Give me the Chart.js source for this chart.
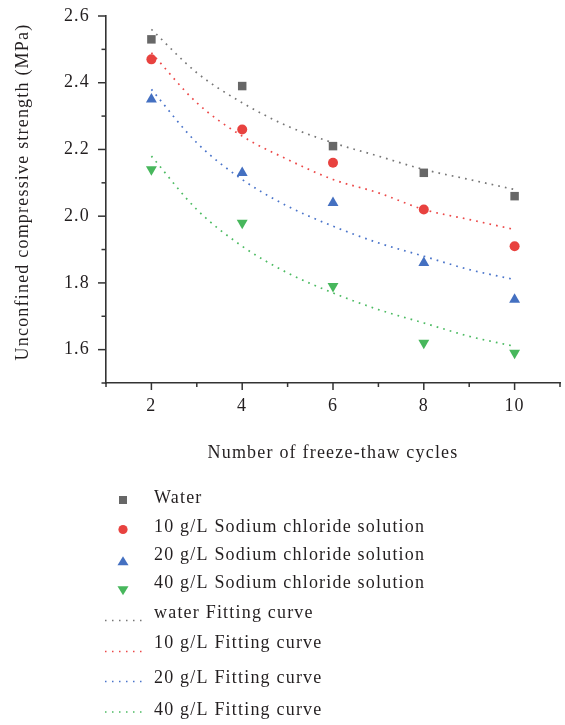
<!DOCTYPE html>
<html>
<head>
<meta charset="utf-8">
<script src="https://cdn.jsdelivr.net/npm/chart.js@4/dist/chart.umd.min.js"></script>
<style>
  html, body { margin: 0; padding: 0; background: #ffffff; }
  #wrap { width: 565px; height: 725px; position: relative; }
</style>
</head>
<body>
<div id="wrap"><canvas id="c" width="565" height="725"></canvas></div>
<script>
// ---- data ----
const cycles = [2, 4, 6, 8, 10];
const water = [2.53, 2.39, 2.21, 2.13, 2.06];
const nacl10 = [2.47, 2.26, 2.16, 2.02, 1.91];
const nacl20 = [2.35, 2.13, 2.04, 1.86, 1.75];
const nacl40 = [2.14, 1.98, 1.79, 1.62, 1.59];

const fitCycles = [2, 3, 4, 5, 6, 7, 8, 9, 10];
const waterFit = [2.56, 2.43, 2.34, 2.27, 2.22, 2.18, 2.14, 2.11, 2.08];
const fit10 = [2.49, 2.34, 2.24, 2.17, 2.11, 2.07, 2.02, 1.99, 1.96];
const fit20 = [2.38, 2.22, 2.11, 2.03, 1.97, 1.92, 1.88, 1.84, 1.81];
const fit40 = [2.18, 2.02, 1.91, 1.83, 1.77, 1.72, 1.68, 1.64, 1.61];

const seriesLabels = [
  'Water',
  '10 g/L Sodium chloride solution',
  '20 g/L Sodium chloride solution',
  '40 g/L Sodium chloride solution',
  'water Fitting curve',
  '10 g/L Fitting curve',
  '20 g/L Fitting curve',
  '40 g/L Fitting curve'
];
const xTitle = 'Number of freeze-thaw cycles';
const yTitle = 'Unconfined compressive strength (MPa)';

// ---- styles ----
const C_GRAY = '#676767', C_RED = '#E8423F', C_BLUE = '#4470C1', C_GREEN = '#47B75C';
const FIT_GRAY = '#777777', FIT_RED = '#EC4848', FIT_BLUE = '#4A74CA', FIT_GREEN = '#4CBB62';
const SERIF = "'Liberation Serif', 'DejaVu Serif', serif";
const TXT = '#231f20';
const SPACING = '1.2px';

const pts = (xs, ys) => xs.map((x, i) => ({ x: x, y: ys[i] }));

function markerSet(label, xs, ys, color, style, radius, rotation) {
  return {
    label: label, data: pts(xs, ys), showLine: false,
    pointStyle: style, pointRadius: radius, pointHoverRadius: radius,
    pointRotation: rotation || 0,
    backgroundColor: color, borderColor: color, pointBorderWidth: 0,
    _legend: { kind: 'marker', style: style, rotation: rotation || 0, color: color }
  };
}
function fitSet(label, xs, ys, color) {
  return {
    label: label, data: pts(xs, ys), showLine: true,
    pointRadius: 0, pointHoverRadius: 0,
    borderColor: color, backgroundColor: color,
    borderWidth: 1.7, borderDash: [1.7, 5.1], borderCapStyle: 'butt',
    cubicInterpolationMode: 'monotone', fill: false,
    _legend: { kind: 'line', color: color }
  };
}

const datasets = [
  markerSet(seriesLabels[0], cycles, water, C_GRAY, 'rect', 6.0),
  markerSet(seriesLabels[1], cycles, nacl10, C_RED, 'circle', 5.0),
  markerSet(seriesLabels[2], cycles, nacl20, C_BLUE, 'triangle', 6.3),
  markerSet(seriesLabels[3], cycles, nacl40, C_GREEN, 'triangle', 6.3, 180),
  fitSet(seriesLabels[4], fitCycles, waterFit, FIT_GRAY),
  fitSet(seriesLabels[5], fitCycles, fit10, FIT_RED),
  fitSet(seriesLabels[6], fitCycles, fit20, FIT_BLUE),
  fitSet(seriesLabels[7], fitCycles, fit40, FIT_GREEN)
];

// wider letter spacing for all canvas text (reference font is wider)
const spacingPlugin = {
  id: 'spacing',
  beforeInit(chart) { chart.ctx.letterSpacing = SPACING; },
  beforeLayout(chart) { chart.ctx.letterSpacing = SPACING; },
  beforeDraw(chart) { chart.ctx.letterSpacing = SPACING; }
};

// draw outward major/minor tick marks using the scales, plus the y title
const tickPlugin = {
  id: 'outTicks',
  afterDraw(chart) {
    const ctx = chart.ctx;
    ctx.save();
    ctx.strokeStyle = '#333333';
    ctx.lineWidth = 1.5;
    const xs = chart.scales.x, ys = chart.scales.y;
    xs.ticks.forEach(t => {
      const px = xs.getPixelForValue(t.value);
      const major = Math.round(t.value) % 2 === 0;
      const len = major ? 7 : 4;
      ctx.beginPath();
      ctx.moveTo(px, xs.top);
      ctx.lineTo(px, xs.top + len);
      ctx.stroke();
    });
    ys.ticks.forEach(t => {
      const py = ys.getPixelForValue(t.value);
      const major = Math.round(t.value * 10) % 2 === 0;
      const len = major ? 8 : 4.5;
      ctx.beginPath();
      ctx.moveTo(ys.right, py);
      ctx.lineTo(ys.right - len, py);
      ctx.stroke();
    });
    // y axis title
    ctx.translate(23, 192);
    ctx.rotate(-Math.PI / 2);
    ctx.letterSpacing = SPACING;
    ctx.fillStyle = TXT;
    ctx.font = "18px " + SERIF;
    ctx.textAlign = 'center';
    ctx.textBaseline = 'middle';
    ctx.fillText(yTitle, 0, 0);
    ctx.restore();
  }
};

// vertical legend below the plot
const legendPlugin = {
  id: 'colLegend',
  afterDraw(chart) {
    const ctx = chart.ctx;
    const textX = 154;
    const symX = 123;
    const textY = [498, 527, 555, 583, 613, 643, 678, 710];
    const symY = [500, 529.5, 561, 590.5, 620.5, 651.5, 681.5, 712];
    ctx.save();
    ctx.letterSpacing = SPACING;
    chart.data.datasets.forEach((ds, i) => {
      const lg = ds._legend;
      const y = symY[i];
      ctx.fillStyle = lg.color;
      ctx.strokeStyle = lg.color;
      if (lg.kind === 'marker') {
        ctx.beginPath();
        if (lg.style === 'rect') {
          ctx.rect(symX - 4, y - 4, 8, 8);
        } else if (lg.style === 'circle') {
          ctx.arc(symX, y, 4.6, 0, Math.PI * 2);
        } else if (lg.rotation === 180) {
          ctx.moveTo(symX - 5.5, y - 4.3);
          ctx.lineTo(symX + 5.5, y - 4.3);
          ctx.lineTo(symX, y + 4.8);
          ctx.closePath();
        } else {
          ctx.moveTo(symX - 5.5, y + 4.3);
          ctx.lineTo(symX + 5.5, y + 4.3);
          ctx.lineTo(symX, y - 4.8);
          ctx.closePath();
        }
        ctx.fill();
      } else {
        ctx.lineWidth = 1.5;
        ctx.setLineDash([1.5, 5.5]);
        ctx.beginPath();
        ctx.moveTo(105, y);
        ctx.lineTo(142, y);
        ctx.stroke();
        ctx.setLineDash([]);
      }
      ctx.fillStyle = TXT;
      ctx.font = "18px " + SERIF;
      ctx.textAlign = 'left';
      ctx.textBaseline = 'middle';
      ctx.fillText(ds.label, textX, textY[i]);
    });
    ctx.restore();
  }
};

new Chart(document.getElementById('c'), {
  type: 'scatter',
  data: { datasets: datasets },
  plugins: [spacingPlugin, tickPlugin, legendPlugin],
  options: {
    responsive: false,
    animation: false,
    events: [],
    layout: { autoPadding: false, padding: { left: 0, right: 5, top: 16, bottom: 252 } },
    plugins: { legend: { display: false }, tooltip: { enabled: false }, title: { display: false } },
    scales: {
      x: {
        type: 'linear', min: 1, max: 11,
        afterFit(s) {
          s.height = 90;
          s.paddingLeft = 0; s.paddingRight = 0; s.paddingTop = 0; s.paddingBottom = 0;
        },
        grid: { display: false, drawTicks: false },
        border: { display: true, color: '#333333', width: 1.6 },
        ticks: {
          stepSize: 1, autoSkip: false, maxRotation: 0, padding: 12,
          color: TXT, font: { family: SERIF, size: 18 },
          callback: v => (Math.round(v) % 2 === 0 ? String(Math.round(v)) : '')
        },
        title: {
          display: true, text: xTitle, color: TXT,
          font: { family: SERIF, size: 18 }, padding: { top: 0, bottom: 9 }
        }
      },
      y: {
        type: 'linear', min: 1.5, max: 2.6,
        afterFit(s) {
          s.width = 106;
          s.paddingLeft = 0; s.paddingRight = 0; s.paddingTop = 0; s.paddingBottom = 0;
        },
        grid: { display: false, drawTicks: false },
        border: { display: true, color: '#333333', width: 1.6 },
        ticks: {
          stepSize: 0.1, autoSkip: false, padding: 16,
          color: TXT, font: { family: SERIF, size: 18 },
          callback: v => { const k = Math.round(v * 10); return k % 2 === 0 ? (k / 10).toFixed(1) : ''; }
        },
        title: { display: false }
      }
    }
  }
});
</script>
</body>
</html>
